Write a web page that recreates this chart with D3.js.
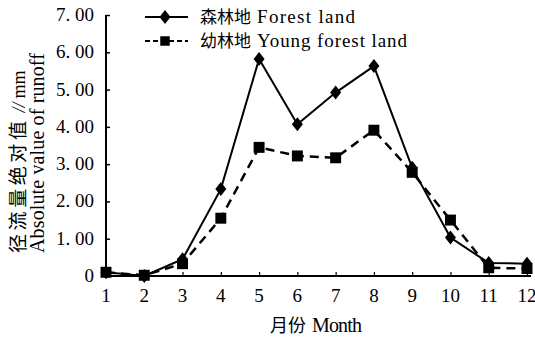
<!DOCTYPE html>
<html><head><meta charset="utf-8">
<script src="https://cdn.jsdelivr.net/npm/d3@7"></script>
<style>body{margin:0;background:#fff}svg{display:block}
.lat{font-family:"Liberation Serif","Times New Roman",serif}
.cjk{font-family:"Noto Sans CJK SC",sans-serif}</style>
</head><body><svg id="c" width="535" height="342"></svg>
<script>
const months = [1,2,3,4,5,6,7,8,9,10,11,12];
const forest = [0.1,0.0,0.45,2.33,5.82,4.07,4.92,5.63,2.9,1.03,0.35,0.33];
const young  = [0.1,0.02,0.33,1.55,3.45,3.22,3.17,3.91,2.78,1.5,0.22,0.2];
const yTicks = [0,1,2,3,4,5,6,7];
const yLabels = ["0","1. 00","2. 00","3. 00","4. 00","5. 00","6. 00","7. 00"];
const seriesCn = ["森林地","幼林地"];
const seriesEn = ["Forest land","Young forest land"];

const svg = d3.select("#c");
const x = d3.scaleLinear().domain([1,12]).range([106,527]);
const y = d3.scaleLinear().domain([0,7]).range([276,15]);

function mixed(sel, cn, en, cnSize, enSize, enLen){
  sel.append("tspan").attr("class","cjk").attr("font-size",cnSize).text(cn);
  const t = sel.append("tspan").attr("class","lat").attr("font-size",enSize).attr("dx",6).text(en);
  if(enLen) t.attr("textLength",enLen);
}

// axes
const yAxis = d3.axisRight(y).tickValues(yTicks).tickSize(4).tickFormat("");
const gy = svg.append("g").attr("transform","translate(106,0)").call(yAxis);
gy.select(".domain").remove();
gy.selectAll("line").attr("stroke","#000").attr("stroke-width",1.5);
svg.append("line").attr("x1",106).attr("x2",106).attr("y1",y(7)).attr("y2",y(0)).attr("stroke","#000").attr("stroke-width",2);
yTicks.forEach((t,i)=>{
  svg.append("text").attr("class","lat").attr("x",94).attr("y",y(t)+6).attr("text-anchor","end")
    .attr("font-size",19).text(yLabels[i]);
});
const xAxis = d3.axisTop(x).tickValues(months).tickSize(4).tickFormat("");
const gx = svg.append("g").attr("transform","translate(0,276)").call(xAxis);
gx.select(".domain").remove();
gx.selectAll("line").attr("stroke","#000").attr("stroke-width",1.2);
svg.append("line").attr("x1",106).attr("x2",531).attr("y1",276).attr("y2",276).attr("stroke","#000").attr("stroke-width",2);
months.forEach(m=>{
  svg.append("text").attr("class","lat").attr("x",x(m)).attr("y",302).attr("text-anchor","middle")
    .attr("font-size",19).text(m);
});
mixed(svg.append("text").attr("x",270).attr("y",332), "月份", "Month", 18, 20, 50);
const yt1 = svg.append("text").attr("transform","translate(25,253) rotate(-90)");
yt1.append("tspan").attr("class","cjk").attr("font-size",19).attr("textLength",132).text("径流量绝对值");
yt1.append("tspan").attr("class","lat").attr("font-size",18).attr("dx",5).attr("font-style","italic").text("//");
yt1.append("tspan").attr("class","lat").attr("font-size",18).attr("dx",4).text("mm");
svg.append("text").attr("class","lat").attr("transform","translate(44,253) rotate(-90)").attr("font-size",20).attr("textLength",200).text("Absolute value of runoff");

const line = d3.line().x((d,i)=>x(months[i])).y(d=>y(d));
svg.append("path").datum(forest).attr("d",line).attr("fill","none").attr("stroke","#000").attr("stroke-width",2);
svg.append("path").datum(young).attr("d",line).attr("fill","none").attr("stroke","#000").attr("stroke-width",2.5).attr("stroke-dasharray","9,6");

const diamondPath = "M0,-7L5.5,0L0,7L-5.5,0Z";
const square = d3.symbol().type(d3.symbolSquare).size(120);
svg.selectAll(".ys").data(young).enter().append("path").attr("d",square)
  .attr("transform",(d,i)=>`translate(${x(months[i])},${y(d)})`).attr("fill","#000");
svg.selectAll(".fd").data(forest).enter().append("path").attr("d",diamondPath)
  .attr("transform",(d,i)=>`translate(${x(months[i])},${y(d)})`).attr("fill","#000");

// legend
const leg = [{y:17,dash:null,sym:diamondPath,w:98},{y:41,dash:"5,3",sym:d3.symbol().type(d3.symbolSquare).size(90)(),w:150}];
leg.forEach((l,i)=>{
  svg.append("line").attr("x1",145).attr("x2",188).attr("y1",l.y).attr("y2",l.y).attr("stroke","#000").attr("stroke-width",2).attr("stroke-dasharray",l.dash);
  svg.append("path").attr("d",l.sym).attr("transform",`translate(165,${l.y})`).attr("fill","#000");
  mixed(svg.append("text").attr("x",200).attr("y",l.y+6), seriesCn[i], seriesEn[i], 17, 19, l.w);
});
</script></body></html>
